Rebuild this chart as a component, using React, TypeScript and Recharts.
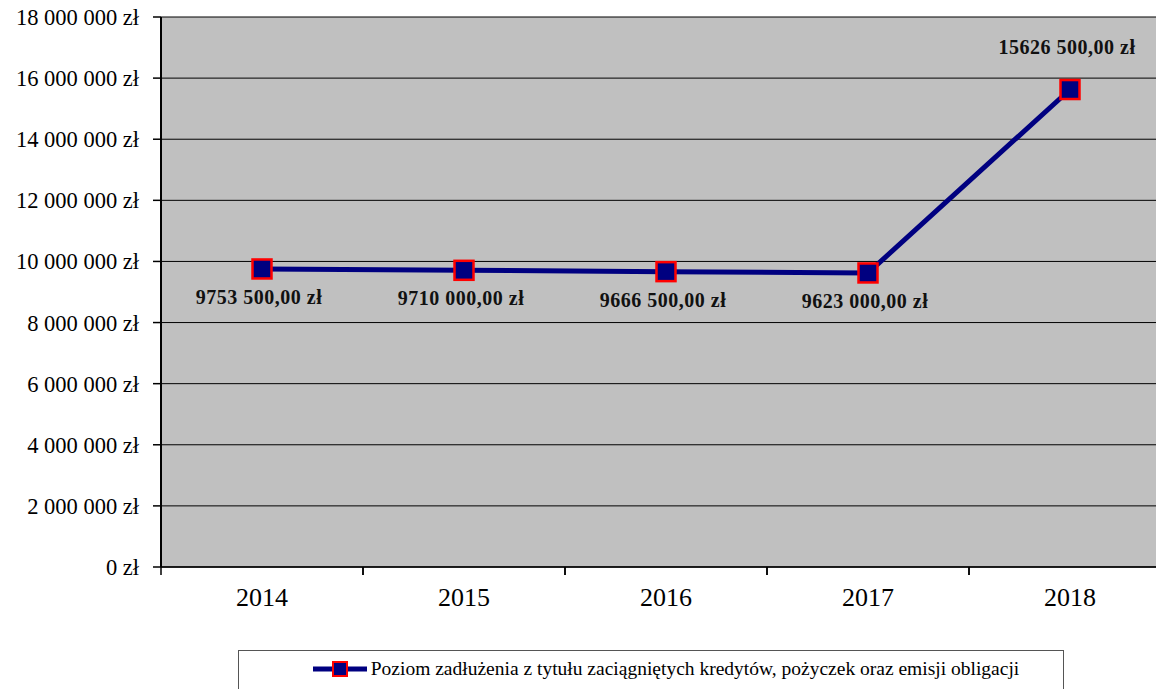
import { LineChart, Line, XAxis, YAxis, CartesianGrid, Legend, LabelList } from 'recharts';

const years = ['2014', '2015', '2016', '2017', '2018'];
const debt = [9753500, 9710000, 9666500, 9623000, 15626500];
const yTicks = [0, 2000000, 4000000, 6000000, 8000000, 10000000, 12000000, 14000000, 16000000, 18000000];
const seriesName = 'Poziom zadłużenia z tytułu zaciągniętych kredytów, pożyczek oraz emisji obligacji';

const data = years.map((year, i) => ({ year, value: debt[i] }));

const FONT = '"Liberation Serif", "Times New Roman", serif';
const NAVY = '#000080';
const PLOT_W = 1010;
const BAND = PLOT_W / years.length;

const groupSpaces = (n: number) => String(n).replace(/\B(?=(\d{3})+(?!\d))/g, ' ');

// "9753 500,00 zł" style - only the last group split off
const valueLabel = (v: number) => {
  const thousands = Math.floor(v / 1000);
  const rest = String(v % 1000).padStart(3, '0');
  return `${thousands} ${rest},00 zł`;
};

function SquareDot(props: any) {
  const { cx, cy } = props;
  if (cx == null || cy == null) return null;
  return <rect x={cx - 9.5} y={cy - 9.5} width={19} height={19} fill={NAVY} stroke="#ff0000" strokeWidth={2.5} />;
}

function YearTick(props: any) {
  const { x, y, payload } = props;
  const top = y - 21;
  return (
    <g>
      <line x1={x - BAND / 2} y1={top} x2={x - BAND / 2} y2={top + 8} stroke="#000" strokeWidth={1.5} />
      <line x1={x + BAND / 2} y1={top} x2={x + BAND / 2} y2={top + 8} stroke="#000" strokeWidth={1.5} />
      <text x={x} y={y} dy="0.71em" textAnchor="middle" fontFamily={FONT} fontSize={26} fill="#000">
        {payload.value}
      </text>
    </g>
  );
}

function PointLabel(props: any) {
  const { x, y, index, value } = props;
  const above = index === years.length - 1;
  return (
    <text
      x={x - 3}
      y={above ? y - 43 : y + 28}
      textAnchor="middle"
      dominantBaseline="central"
      fontFamily={FONT}
      fontWeight="bold"
      fontSize={20}
      letterSpacing={0.5}
      fill="#111"
    >
      {valueLabel(value)}
    </text>
  );
}

function LegendBox() {
  return (
    <div
      style={{
        boxSizing: 'border-box',
        width: 826,
        height: 50,
        border: '1.5px solid #555',
        background: '#fff',
        display: 'flex',
        alignItems: 'flex-start',
        justifyContent: 'center',
        paddingTop: 7,
        paddingLeft: 30,
        fontFamily: FONT,
        fontSize: 19.5,
        color: '#000',
      }}
    >
      <svg width={54} height={22} style={{ marginRight: 4 }}>
        <line x1={0} y1={11} x2={54} y2={11} stroke={NAVY} strokeWidth={5} />
        <rect x={20} y={4} width={14} height={14} fill={NAVY} stroke="#ff0000" strokeWidth={2} />
      </svg>
      <span style={{ lineHeight: '22px', fontFamily: FONT }}>{seriesName}</span>
    </div>
  );
}

export default function App() {
  return (
    <div style={{ position: 'fixed', left: 0, top: 0, width: 1156, height: 689, overflow: 'hidden', background: '#fff' }}>
      <LineChart width={1180} height={689} data={data} margin={{ top: 17, right: 9, left: 0, bottom: 0 }}>
        <CartesianGrid vertical={false} stroke="#000" strokeWidth={1} fill="#c0c0c0" fillOpacity={1} />
        <XAxis
          dataKey="year"
          height={72}
          padding={{ left: BAND / 2, right: BAND / 2 }}
          tickLine={false}
          tickSize={8}
          tickMargin={13}
          axisLine={{ stroke: '#000', strokeWidth: 1.5 }}
          tick={<YearTick />}
          interval={0}
        />
        <YAxis
          domain={[0, 18000000]}
          ticks={yTicks}
          width={161}
          tickSize={8}
          tickMargin={14}
          axisLine={{ stroke: '#000', strokeWidth: 2 }}
          tickLine={{ stroke: '#000', strokeWidth: 1.5 }}
          tick={{ fontFamily: FONT, fontSize: 22.5, fill: '#000' }}
          tickFormatter={(v: number) => `${groupSpaces(v)} zł`}
          interval={0}
        />
        <Legend
          verticalAlign="bottom"
          content={<LegendBox />}
          wrapperStyle={{ left: 238, width: 826, bottom: -11 }}
        />
        <Line
          type="linear"
          dataKey="value"
          name={seriesName}
          stroke={NAVY}
          strokeWidth={5}
          dot={<SquareDot />}
          activeDot={false}
          isAnimationActive={false}
        >
          <LabelList dataKey="value" content={<PointLabel />} />
        </Line>
      </LineChart>
    </div>
  );
}
